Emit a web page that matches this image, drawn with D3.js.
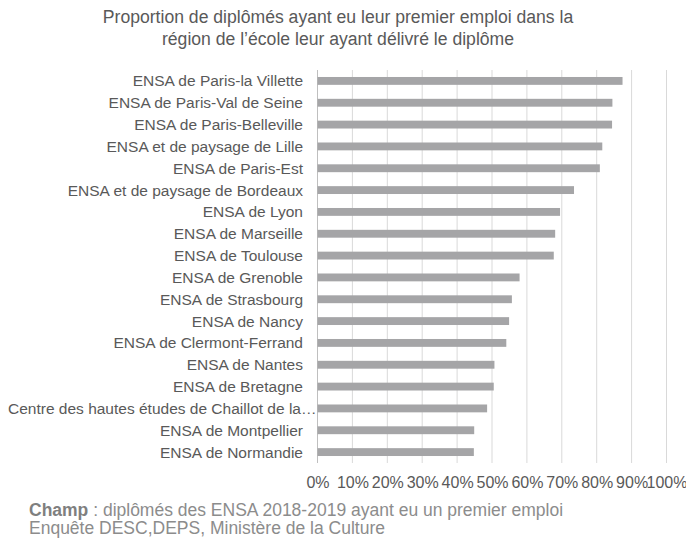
<!DOCTYPE html>
<html>
<head>
<meta charset="utf-8">
<script src="https://cdn.jsdelivr.net/npm/d3@7"></script>
<style>
  body { margin: 0; background: #fff; }
  text { font-family: "Liberation Sans", Arial, sans-serif; fill: #595959; }
</style>
</head>
<body>
<svg id="chart"></svg>
<script>
var categories = [
  "ENSA de Paris-la Villette",
  "ENSA de Paris-Val de Seine",
  "ENSA de Paris-Belleville",
  "ENSA et de paysage de Lille",
  "ENSA de Paris-Est",
  "ENSA et de paysage de Bordeaux",
  "ENSA de Lyon",
  "ENSA de Marseille",
  "ENSA de Toulouse",
  "ENSA de Grenoble",
  "ENSA de Strasbourg",
  "ENSA de Nancy",
  "ENSA de Clermont-Ferrand",
  "ENSA de Nantes",
  "ENSA de Bretagne",
  "Centre des hautes études de Chaillot de la…",
  "ENSA de Montpellier",
  "ENSA de Normandie"
];
var values = [87.4, 84.5, 84.4, 81.6, 80.9, 73.5, 69.5, 68.1, 67.7, 57.9, 55.7, 54.9, 54.1, 50.7, 50.5, 48.6, 44.9, 44.8];
var ticks = [0, 10, 20, 30, 40, 50, 60, 70, 80, 90, 100];

var W = 686, H = 541;
var svg = d3.select("svg#chart").attr("width", W).attr("height", H);

var x = d3.scaleLinear().domain([0, 100]).range([317.5, 666.5]);
var y = d3.scaleBand().domain(categories).range([70, 463]).paddingInner(0.64).paddingOuter(0.32);

// titre
svg.append("text").attr("x", 338).attr("y", 23).attr("text-anchor", "middle")
  .style("font-size", "17.6px").text("Proportion de diplômés ayant eu leur premier emploi dans la");
svg.append("text").attr("x", 338).attr("y", 45).attr("text-anchor", "middle")
  .style("font-size", "17.6px").text("région de l’école leur ayant délivré le diplôme");

// grille
svg.append("g").selectAll("line").data(ticks).enter().append("line")
  .attr("x1", function(d) { return x(d); }).attr("x2", function(d) { return x(d); })
  .attr("y1", 70).attr("y2", 463)
  .attr("stroke", function(d) { return d === 0 ? "#bfbfbf" : "#d9d9d9"; })
  .attr("stroke-width", 1);

// barres
svg.append("g").selectAll("rect").data(values).enter().append("rect")
  .attr("x", x(0))
  .attr("y", function(d, i) { return y(categories[i]); })
  .attr("width", function(d) { return x(d) - x(0); })
  .attr("height", y.bandwidth())
  .attr("fill", "#a5a5a7");

// libellés
svg.append("g").selectAll("text").data(categories).enter().append("text")
  .attr("x", function(d, i) { return i === 15 ? 8 : 303; })
  .attr("y", function(d) { return y(d) + y.bandwidth() / 2; })
  .attr("dy", "0.35em")
  .attr("text-anchor", function(d, i) { return i === 15 ? "start" : "end"; })
  .style("font-size", "15.5px")
  .text(function(d) { return d; });

// axe
var xAxis = svg.append("g").attr("transform", "translate(0,474)")
  .call(d3.axisBottom(x).tickValues(ticks).tickSize(0).tickFormat(function(d) { return d + "%"; }));
xAxis.select(".domain").remove();
xAxis.selectAll("text").style("font-size", "16px").style("fill", "#595959").attr("font-family", null);

// source
var champ = svg.append("text").attr("x", 29).attr("y", 516).style("font-size", "17.5px").style("fill", "#8c8c8c");
champ.append("tspan").style("font-weight", "bold").style("fill", "#7f7f7f").text("Champ");
champ.append("tspan").text(" : diplômés des ENSA 2018-2019 ayant eu un premier emploi");
svg.append("text").attr("x", 29).attr("y", 534).style("font-size", "17.5px").style("fill", "#8c8c8c")
  .text("Enquête DESC,DEPS, Ministère de la Culture");
</script>
</body>
</html>
